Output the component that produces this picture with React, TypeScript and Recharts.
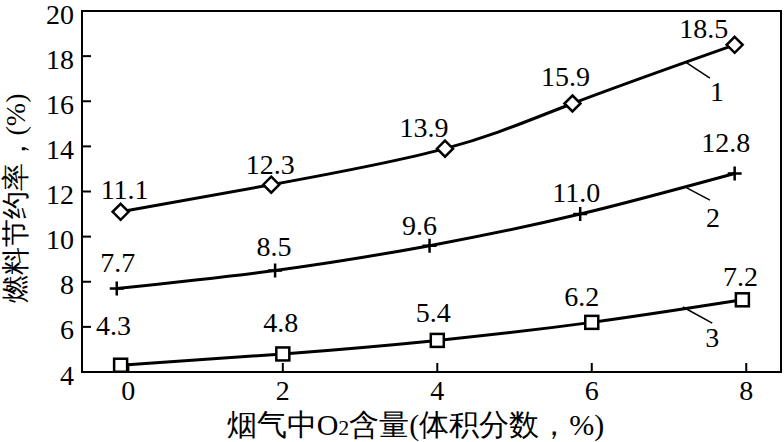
import React from "react";
import {
  LineChart,
  Line,
  XAxis,
  YAxis,
  ReferenceArea,
  ReferenceLine,
  ReferenceDot,
  LabelList,
} from "recharts";

// x positions and values of the three curves (flue gas O2 %, fuel saving %)
const xTicks = [0, 2, 4, 6, 8];
const yTicks = [4, 6, 8, 10, 12, 14, 16, 18, 20];

const curve1 = [
  { x: -0.1, y: 11.1 },
  { x: 1.85, y: 12.3 },
  { x: 4.1, y: 13.9 },
  { x: 5.75, y: 15.9 },
  { x: 7.85, y: 18.5 },
];
const curve2 = [
  { x: -0.15, y: 7.7 },
  { x: 1.9, y: 8.5 },
  { x: 3.9, y: 9.6 },
  { x: 5.85, y: 11.0 },
  { x: 7.85, y: 12.8 },
];
const curve3 = [
  { x: -0.1, y: 4.3 },
  { x: 2.0, y: 4.8 },
  { x: 4.0, y: 5.4 },
  { x: 6.0, y: 6.2 },
  { x: 7.95, y: 7.2 },
];

// curve names with leader lines (data coords)
const tags = [
  { name: "1", from: { x: 7.21, y: 17.74 }, to: { x: 7.53, y: 17.03 }, at: { x: 7.62, y: 16.41 } },
  { name: "2", from: { x: 7.23, y: 12.16 }, to: { x: 7.53, y: 11.62 }, at: { x: 7.57, y: 10.83 } },
  { name: "3", from: { x: 7.18, y: 6.88 }, to: { x: 7.56, y: 6.17 }, at: { x: 7.56, y: 5.51 } },
];

// label nudges in px (dx, dy) per point
const shift1 = [[4, -22], [-1, -20], [-21, -21], [-7, -27], [-31, -16]];
const shift2 = [[1, -26], [-1, -24], [-10, -20], [-4, -22], [-9, -31]];
const shift3 = [[-7, -40], [-2, -31], [-4, -28], [-10, -26], [-2, -23]];

const FONT = "Liberation Serif";

const Diamond = (p: any) => {
  const { cx, cy } = p;
  const r = 8;
  return (
    <path
      d={`M${cx},${cy - r}L${cx + r},${cy}L${cx},${cy + r}L${cx - r},${cy}Z`}
      fill="#fff"
      stroke="#000"
      strokeWidth={2.5}
    />
  );
};

const Plus = (p: any) => {
  const { cx, cy } = p;
  const r = 7;
  return (
    <path
      d={`M${cx - r},${cy}H${cx + r}M${cx},${cy - r}V${cy + r}`}
      stroke="#000"
      strokeWidth={2.5}
      fill="none"
    />
  );
};

const Square = (p: any) => {
  const { cx, cy } = p;
  const r = 6.5;
  return (
    <rect x={cx - r} y={cy - r} width={r * 2} height={r * 2} fill="#fff" stroke="#000" strokeWidth={2.5} />
  );
};

const txt = { fontFamily: FONT, fill: "#000" };

const makeLabel = (shift: number[][]) => (props: any) => {
  const { x, y, value, index } = props;
  const [dx, dy] = shift[index] || [0, -20];
  return (
    <text x={x + dx} y={y + dy} textAnchor="middle" dominantBaseline="central" style={{ ...txt, fontSize: 28 }}>
      {Number(value).toFixed(1)}
    </text>
  );
};

const XTick = (props: any) => {
  const { x, y, payload } = props;
  return (
    <g>
      <line x1={x} y1={y} x2={x} y2={y - 9} stroke="#000" strokeWidth={2} />
      <text x={x} y={y + 18} textAnchor="middle" dominantBaseline="central" style={{ ...txt, fontSize: 28 }}>
        {payload.value}
      </text>
    </g>
  );
};

const YTick = (props: any) => {
  const { x, y, payload } = props;
  return (
    <g>
      <line x1={x} y1={y} x2={x + 9} y2={y} stroke="#000" strokeWidth={2} />
      <text x={x - 8} y={y + 3} textAnchor="end" dominantBaseline="central" style={{ ...txt, fontSize: 28 }}>
        {payload.value}
      </text>
    </g>
  );
};

const XTitle = (props: any) => {
  const vb = props.viewBox || { x: 82, y: 372, width: 699, height: 70 };
  const cx = vb.x + vb.width / 2 - 16;
  return (
    <text x={cx} y={vb.y + 52} textAnchor="middle" dominantBaseline="central" style={{ ...txt, fontSize: 30 }}>
      烟气中O
      <tspan fontSize={22} dy={3}>2</tspan>
      <tspan dy={-3}>含量(体积分数，%)</tspan>
    </text>
  );
};

const YTitle = (props: any) => {
  const vb = props.viewBox || { x: 0, y: 11, width: 82, height: 361 };
  const cx = vb.x + 15;
  const cy = vb.y + vb.height / 2 + 7;
  return (
    <text
      x={cx}
      y={cy}
      transform={`rotate(-90 ${cx} ${cy})`}
      textAnchor="middle"
      dominantBaseline="central"
      style={{ ...txt, fontSize: 28 }}
    >
      燃料节约率，(%)
    </text>
  );
};

const TagText = (name: string) => (p: any) => (
  <text x={p.cx} y={p.cy} textAnchor="middle" dominantBaseline="central" style={{ ...txt, fontSize: 28 }}>
    {name}
  </text>
);

export default function App() {
  return (
    <div style={{ position: "absolute", left: 0, top: 0, background: "#fff" }}>
      <LineChart width={784} height={442} margin={{ top: 11, right: 3, left: 0, bottom: 0 }}>
        <XAxis
          type="number"
          dataKey="x"
          domain={[-0.6, 8.45]}
          ticks={xTicks}
          allowDataOverflow
          height={70}
          tickSize={0}
          tickMargin={0}
          tickLine={false}
          axisLine={{ stroke: "#000", strokeWidth: 2 }}
          tick={<XTick />}
          label={<XTitle />}
        />
        <YAxis
          type="number"
          dataKey="y"
          domain={[4, 20]}
          ticks={yTicks}
          allowDataOverflow
          width={82}
          tickSize={0}
          tickMargin={0}
          tickLine={false}
          axisLine={{ stroke: "#000", strokeWidth: 2 }}
          tick={<YTick />}
          label={<YTitle />}
        />
        <ReferenceArea x1={-0.6} x2={8.45} y1={4} y2={20} fill="none" stroke="#000" strokeWidth={2} />
        {tags.map((t) => (
          <ReferenceLine key={"l" + t.name} segment={[t.from, t.to]} stroke="#000" strokeWidth={1.5} />
        ))}
        {tags.map((t) => (
          <ReferenceDot key={"t" + t.name} x={t.at.x} y={t.at.y} r={0} shape={TagText(t.name)} />
        ))}
        <Line
          data={curve1}
          dataKey="y"
          type="natural"
          stroke="#000"
          strokeWidth={3}
          dot={(p: any) => <Diamond key={"d1" + p.index} {...p} />}
          isAnimationActive={false}
        >
          <LabelList dataKey="y" content={makeLabel(shift1)} />
        </Line>
        <Line
          data={curve2}
          dataKey="y"
          type="natural"
          stroke="#000"
          strokeWidth={3}
          dot={(p: any) => <Plus key={"d2" + p.index} {...p} />}
          isAnimationActive={false}
        >
          <LabelList dataKey="y" content={makeLabel(shift2)} />
        </Line>
        <Line
          data={curve3}
          dataKey="y"
          type="natural"
          stroke="#000"
          strokeWidth={3}
          dot={(p: any) => <Square key={"d3" + p.index} {...p} />}
          isAnimationActive={false}
        >
          <LabelList dataKey="y" content={makeLabel(shift3)} />
        </Line>
      </LineChart>
    </div>
  );
}
